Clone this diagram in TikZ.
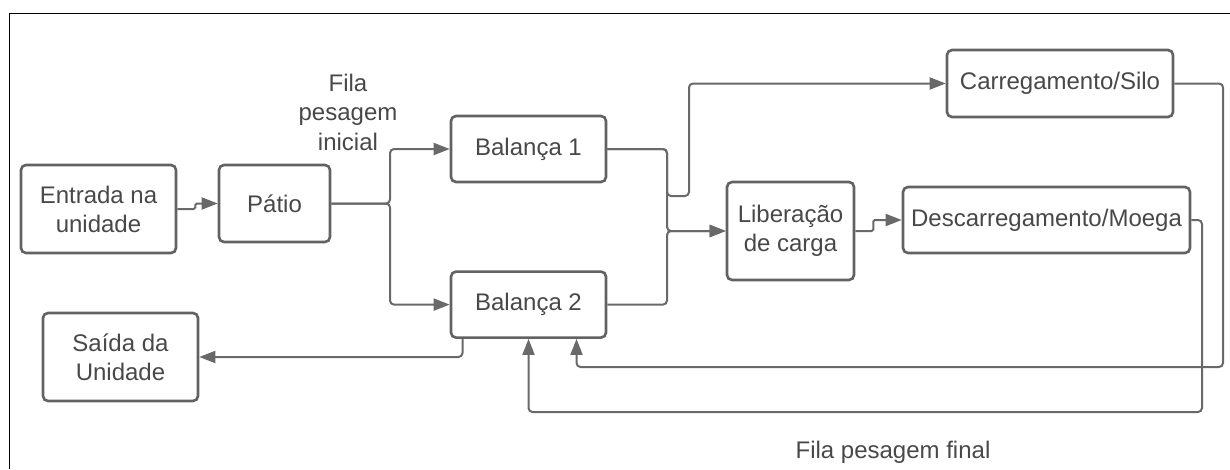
\documentclass[tikz,border=0pt]{standalone}
\usepackage{fontspec}
\setmainfont{Liberation Sans}
\usetikzlibrary{arrows.meta,positioning,calc}
\definecolor{FlowLine}{HTML}{696969}
\definecolor{FlowEdge}{HTML}{626262}
\definecolor{FlowText}{HTML}{484848}

\begin{document}
\begin{tikzpicture}[
  x=1pt,y=-1pt,
  box/.style={rounded corners=5pt,draw=FlowEdge,line width=2.6pt,fill=white,inner sep=0pt,align=center,text=FlowText,font=\fontsize{24}{29}\selectfont},
  arrow/.style={-{Triangle[length=16pt,width=12pt]},line width=2pt,draw=FlowLine,rounded corners=4pt},
  lbl/.style={align=center,text=FlowText,font=\fontsize{24}{29.5}\selectfont}
]
\useasboundingbox (0,0) rectangle (1230,469);
\draw[line width=1.6pt,black] (9.5,469) -- (9.5,13.5) -- (1230,13.5);
\node[box,minimum width=155pt,minimum height=88pt] (ent) at (98.5,209) {Entrada na\\unidade};
\node[box,minimum width=111pt,minimum height=77pt] (pat) at (274.5,203.5) {Pátio};
\node[box,minimum width=155pt,minimum height=88pt] (sai) at (120.5,357) {Saída da\\Unidade};
\node[box,minimum width=155pt,minimum height=66pt] (bal1) at (528.5,149) {Balança 1};
\node[box,minimum width=155pt,minimum height=66pt,below=87pt of bal1] (bal2) {Balança 2};
\node[box,minimum width=127pt,minimum height=98pt] (lib) at (790.5,231) {Liberação\\de carga};
\node[box,minimum width=226pt,minimum height=67pt] (carr) at (1060,83.5) {Carregamento/Silo};
\node[box,minimum width=287pt,minimum height=66pt] (desc) at (1046.5,220) {Descarregamento/Moega};
\node[lbl] (fini) at (348,112) {Fila\\pesagem\\inicial};
\node[lbl] (ffin) at (893,452) {Fila pesagem final};
\coordinate (split) at (390,203.5);
\coordinate (merge) at (667,231);
\draw[arrow,rounded corners=1.5pt] (ent.east) -- ++(18,0) |- (pat.west);
\draw[arrow] (pat.east) -- (split) |- (bal1.west);
\draw[arrow] (pat.east) -- (split) |- (bal2.west);
\draw[arrow] (bal1.east) -| (merge) -- (lib.west);
\draw[arrow] (bal2.east) -| (merge) -- (lib.west);
\draw[arrow] (bal1.east) -| (667,196) -- (689,196) |- (carr.west);
\draw[arrow,rounded corners=1.5pt] (lib.east) -- ++(18,0) |- (desc.west);
\draw[arrow] (carr.east) -| (1223,367) -| ([xshift=48pt]bal2.south);
\draw[arrow] (desc.east) -| (1202,412) -| (bal2.south);
\draw[arrow] ([xshift=-66pt]bal2.south) |- (sai.east);
\end{tikzpicture}
\end{document}
